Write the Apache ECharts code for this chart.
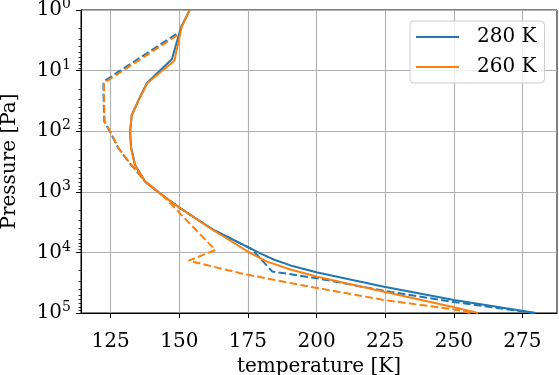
<!DOCTYPE html>
<html>
<head>
<meta charset="utf-8">
<script src="https://cdn.jsdelivr.net/npm/echarts@6/dist/echarts.min.js"></script>
<style>
  html, body { margin: 0; padding: 0; background: #fff; }
  #chart { width: 559px; height: 375px; }
</style>
</head>
<body>
<div id="chart"></div>
<script>
// temperature [K] / pressure [Pa]
var t280 = [153.8, 150.7, 147.3, 138.2, 135.1, 132.7, 132.1, 132.5, 133.9, 137.6, 143.7, 150.4, 162.5, 175.9, 180.3, 184.4, 190.5, 200.3, 224.6, 250.1, 279.9];
var p280 = [1, 1.9, 6.5, 16, 31, 54, 102, 190, 360, 680, 1130, 1870, 4270, 8570, 10800, 13100, 16400, 21400, 36800, 61000, 100000];

var t260 = [153.8, 150.9, 148.2, 138.4, 135.2, 132.7, 132.0, 132.4, 133.8, 137.6, 143.7, 150.4, 162.3, 175.9, 182.0, 190.5, 200.3, 224.6, 250.1, 258.8];
var p260 = [1, 1.9, 6.9, 16, 31, 54, 102, 190, 360, 680, 1130, 1870, 4270, 10300, 14200, 19100, 25200, 44700, 80500, 100000];

var t280d = [148.9, 122.4, 122.4, 122.7, 124.8, 127.8, 131.5, 134.6, 137.6, 143.7, 150.4, 162.5, 175.9, 178.4, 183.8, 200.3, 227.0, 250.1, 279.0];
var p280d = [2.5, 15.2, 25, 70, 102, 191, 318, 466, 680, 1130, 1870, 4270, 8570, 11000, 20600, 26800, 45000, 65800, 100000];

var t260d = [149.3, 122.6, 122.6, 122.8, 124.9, 127.9, 131.6, 134.7, 137.7, 143.8, 147.9, 163.1, 153.4, 172.3, 194.1, 224.6, 251.4, 256.0];
var p260d = [2.6, 16, 25, 70, 102, 191, 318, 466, 680, 1130, 1760, 9120, 13700, 22100, 34500, 61000, 89100, 100000];

var xTicks = [125, 150, 175, 200, 225, 250, 275];
var yMinorTicks = [];
[1, 10, 100, 1000, 10000].forEach(function (d) {
  for (var k = 2; k <= 9; k++) yMinorTicks.push(k * d);
});

function pairs(t, p) {
  return t.map(function (v, i) { return [v, p[i]]; });
}

var font = 'DejaVu Serif';
var fs = 20;
var blue = '#1f77b4';
var orange = '#ff7f0e';
var dash = [7.7, 3.3];

var myChart = echarts.init(document.getElementById('chart'));

var option = {
  animation: false,
  backgroundColor: '#fff',
  grid: {
    left: 81, right: 2, top: 10, bottom: 62,
    containLabel: false,
    outerBoundsMode: 'none',
    show: true, borderColor: '#000', borderWidth: 1, backgroundColor: '#fff'
  },
  legend: {
    data: ['280 K', '260 K'],
    orient: 'vertical',
    left: 410, top: 21,
    icon: 'rect',
    itemWidth: 43, itemHeight: 2,
    itemGap: 8,
    padding: [5, 8, 5, 6],
    backgroundColor: 'rgba(255,255,255,0.8)',
    borderColor: '#cccccc', borderWidth: 1, borderRadius: 4,
    textStyle: { fontFamily: font, fontSize: fs, color: '#000', lineHeight: 22, padding: [0, 0, 0, 13] }
  },
  xAxis: {
    type: 'value',
    min: 114.2, max: 287.6,
    name: 'temperature [K]',
    nameLocation: 'middle',
    nameGap: 40,
    nameTextStyle: { fontFamily: font, fontSize: fs, color: '#000' },
    axisLine: { show: true, lineStyle: { color: '#000', width: 1 } },
    axisTick: { show: true, length: 5, customValues: xTicks, lineStyle: { color: '#000' } },
    axisLabel: { customValues: xTicks, fontFamily: font, fontSize: fs, color: '#000', margin: 19 },
    splitLine: { show: true, customValues: xTicks, lineStyle: { color: '#b0b0b0', width: 1.1 } }
  },
  yAxis: [{
    type: 'log',
    logBase: 10,
    min: 1, max: 100000,
    interval: 1,
    inverse: true,
    name: 'Pressure [Pa]',
    nameLocation: 'middle',
    nameGap: 61,
    nameTextStyle: { fontFamily: font, fontSize: fs, color: '#000' },
    axisLine: { show: true, lineStyle: { color: '#000', width: 1 } },
    axisTick: { show: true, length: 5, lineStyle: { color: '#000' } },
    axisLabel: {
      margin: 10,
      formatter: function (v) {
        return '{b|10}{s|' + Math.round(Math.log10(v)) + '}';
      },
      rich: {
        b: { fontFamily: font, fontSize: fs, color: '#000' },
        s: { fontFamily: font, fontSize: 14, color: '#000', padding: [0, 0, 11, 0] }
      }
    },
    splitLine: { show: true, lineStyle: { color: '#b0b0b0', width: 1.1 } }
  }, {
    type: 'log',
    logBase: 10,
    min: 1, max: 100000,
    inverse: true,
    position: 'left',
    axisLine: { show: false },
    axisLabel: { show: false },
    splitLine: { show: false },
    axisTick: { show: true, length: 2.5, customValues: yMinorTicks, lineStyle: { color: '#000', width: 0.8 } }
  }],
  series: [
    { name: '280 K', type: 'line', data: pairs(t280, p280), showSymbol: false, symbol: 'none',
      lineStyle: { color: blue, width: 2 }, itemStyle: { color: blue }, z: 3 },
    { name: '280 K dashed', type: 'line', data: pairs(t280d, p280d), showSymbol: false, symbol: 'none',
      lineStyle: { color: blue, width: 2, type: dash }, itemStyle: { color: blue }, z: 3 },
    { name: '260 K', type: 'line', data: pairs(t260, p260), showSymbol: false, symbol: 'none',
      lineStyle: { color: orange, width: 2 }, itemStyle: { color: orange }, z: 4 },
    { name: '260 K dashed', type: 'line', data: pairs(t260d, p260d), showSymbol: false, symbol: 'none',
      lineStyle: { color: orange, width: 2, type: dash }, itemStyle: { color: orange }, z: 4 }
  ]
};

myChart.setOption(option);
</script>
</body>
</html>
